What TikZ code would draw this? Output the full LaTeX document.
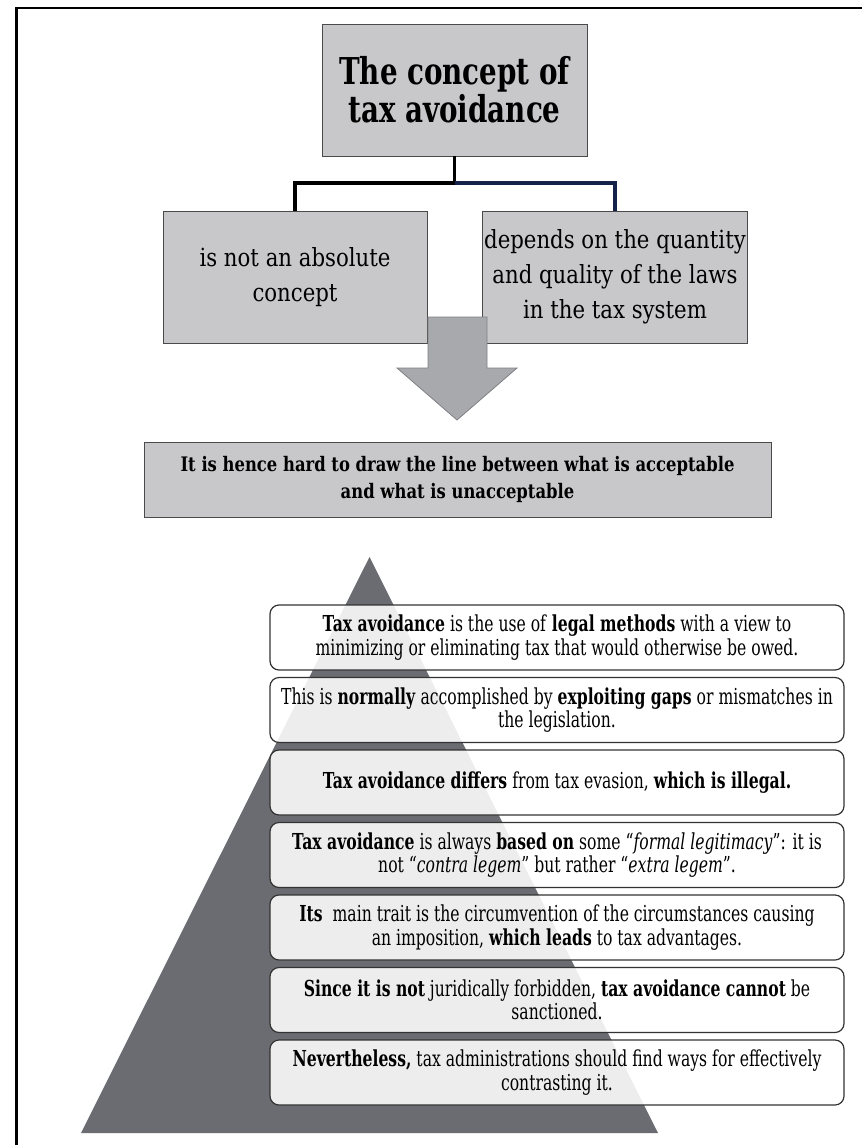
\documentclass[tikz,border=0pt]{standalone}
\usepackage{fontspec}
\setmainfont{DejaVu Serif}
% condensed slab faces for the different text levels
\newfontfamily\headfont{DejaVu Serif}[FakeStretch=0.75]
\newfontfamily\midfont{DejaVu Serif}[FakeStretch=0.85]
\newfontfamily\bandfont{DejaVu Serif}[FakeStretch=0.82]
\newfontfamily\stepfont{DejaVu Serif}[FakeStretch=0.71]

\definecolor{boxgray}{HTML}{C8C8CA}
\definecolor{boxedge}{HTML}{4A4A4A}
\definecolor{arrowgray}{HTML}{A8A9AD}
\definecolor{arrowedge}{HTML}{808084}
\definecolor{pyramidgray}{HTML}{6B6C71}
\definecolor{navyline}{HTML}{14224A}

\tikzset{
  graybox/.style={draw=boxedge, line width=0.9pt, fill=boxgray, inner sep=0pt, align=center},
  stepbox/.style={draw=black!80, line width=1.2pt, rounded corners=9pt, fill=white,
    fill opacity=0.88, text opacity=1, minimum width=574pt, minimum height=65pt,
    align=center, inner sep=0pt, font=\stepfont\fontsize{22}{23.5}\selectfont},
  branch/.style={line width=3.2pt}
}

\begin{document}
\begin{tikzpicture}[x=1pt,y=-1pt]
\useasboundingbox (0,0) rectangle (862,1145);
\fill[white] (0,0) rectangle (862,1145);

% page frame
\draw[line width=2.6pt] (16.5,1145) -- (16.5,8) -- (862,8);

% top of the hierarchy
\node[graybox, minimum width=265pt, minimum height=132pt,
      font=\headfont\bfseries\fontsize{37}{38}\selectfont] (concept) at (454.5,90)
      {The concept of\\tax avoidance};

\node[graybox, minimum width=264pt, minimum height=132pt,
      font=\midfont\fontsize{25}{35}\selectfont] (absolute) at (295,277)
      {is not an absolute\\concept};
\node[graybox, minimum width=265pt, minimum height=132pt,
      font=\midfont\fontsize{25}{35}\selectfont] (depends) at (615,277)
      {depends on the quantity\\and quality of the laws\\in the tax system};

\coordinate (fork) at (454.5,183);
\draw[branch, black] (concept.south) -- (fork) -| (absolute.north);
\draw[branch, navyline] (fork) -| (depends.north);

% block arrow leading to the conclusion
\filldraw[fill=arrowgray, draw=arrowedge, line width=0.8pt]
  (428,317) -- (487,317) -- (487,368) -- (517,368) -- (457,420)
  -- (397,368) -- (428,368) -- cycle;

\node[graybox, minimum width=627pt, minimum height=75pt,
      font=\bandfont\bfseries\fontsize{20}{27}\selectfont] (hence) at (457.5,479.5)
      {It is hence hard to draw the line between what is acceptable\\and what is unacceptable};

% pyramid behind the statements
\fill[pyramidgray] (369.5,557) -- (658,1133) -- (81,1133) -- cycle;

\node[stepbox] (s1) at (557,637.5)
  {\textbf{Tax avoidance} is the use of \textbf{legal methods} with a view to\\
   minimizing or eliminating tax that would otherwise be owed.};
\node[stepbox] (s2) at (557,710)
  {This is \textbf{normally} accomplished by \textbf{exploiting gaps} or mismatches in\\
   the legislation.};
\node[stepbox] (s3) at (557,782.5)
  {\textbf{Tax avoidance differs} from tax evasion, \textbf{which is illegal.}};
\node[stepbox] (s4) at (557,855)
  {\textbf{Tax avoidance} is always \textbf{based on} some “\textit{formal legitimacy}”: it is\\
   not “\textit{contra legem}” but rather “\textit{extra legem}”.};
\node[stepbox] (s5) at (557,927.5)
  {\textbf{Its}~~main trait is the circumvention of the circumstances causing\\
   an imposition, \textbf{which leads} to tax advantages.};
\node[stepbox] (s6) at (557,1000)
  {\textbf{Since it is not} juridically forbidden, \textbf{tax avoidance cannot} be\\
   sanctioned.};
\node[stepbox] (s7) at (557,1072.5)
  {\textbf{Nevertheless,} tax administrations should find ways for effectively\\
   contrasting it.};
\end{tikzpicture}
\end{document}
